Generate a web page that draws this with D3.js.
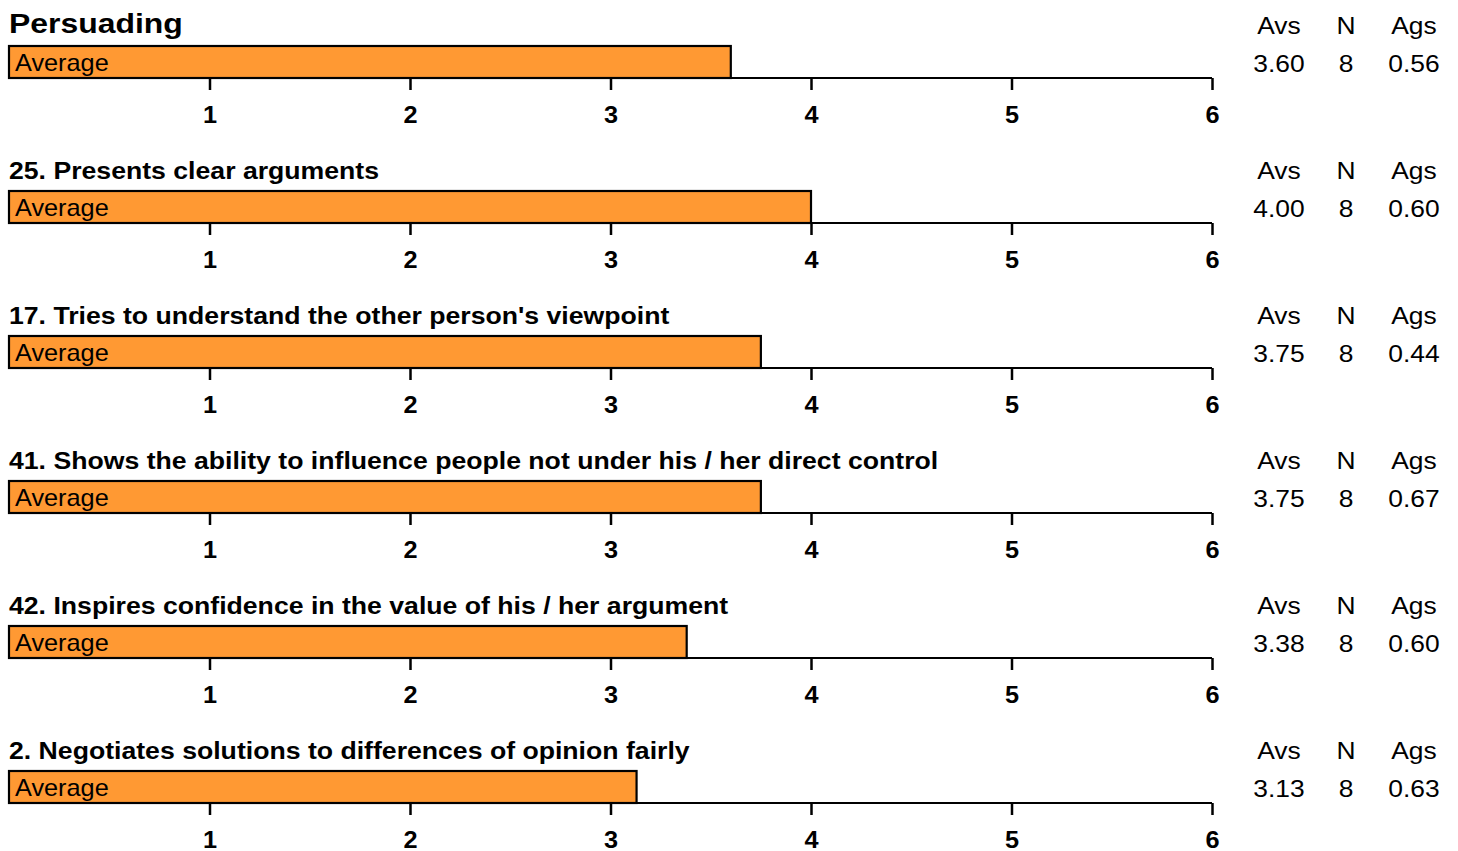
<!DOCTYPE html>
<html><head><meta charset="utf-8">
<script src="https://cdn.jsdelivr.net/npm/d3@7"></script>
<style>body{margin:0;background:#fff}svg{display:block;font-family:"Liberation Sans",Arial,sans-serif}</style>
</head><body><svg id="c" width="1458" height="851"></svg>
<script>
const titles = ["Persuading","25. Presents clear arguments","17. Tries to understand the other person's viewpoint","41. Shows the ability to influence people not under his / her direct control","42. Inspires confidence in the value of his / her argument","2. Negotiates solutions to differences of opinion fairly"];
const averages = [3.60, 4.00, 3.75, 3.75, 3.38, 3.13];
const counts = [8, 8, 8, 8, 8, 8];
const agsValues = [0.56, 0.60, 0.44, 0.67, 0.60, 0.63];
const barLabel = "Average";
const statHeaders = ["Avs","N","Ags"];
const tickValues = [1,2,3,4,5,6];

const svg = d3.select("#c");
const x = d3.scaleLinear().domain([0,6]).range([9,1212]);
const step = 145;
const statX = [1279,1346,1414];

function txt(g, tx, ty, sx, s){
  return g.append("text").attr("transform",`translate(${tx},${ty}) scale(${sx},1)`).attr("fill","#000").text(s);
}

titles.forEach((t,i)=>{
  const g = svg.append("g").attr("transform",`translate(0,${i*step})`);
  if(i===0){
    txt(g, 9, 33, 1.14, t).attr("font-size",28).attr("font-weight","bold");
  } else {
    txt(g, 9, 33.5, 1.11, t).attr("font-size",24).attr("font-weight","bold");
  }
  // axis
  const ax = g.append("g").attr("transform","translate(0,78)")
    .call(d3.axisBottom(x).tickValues(tickValues).tickFormat(d3.format("d")).tickSize(12).tickSizeOuter(0));
  ax.select(".domain").attr("stroke","#000").attr("stroke-width",2).attr("d",`M${x(0)},0H${x(6)}`);
  ax.selectAll(".tick line").attr("stroke","#000").attr("stroke-width",2.5);
  ax.selectAll(".tick text").attr("font-size",23).attr("font-weight","bold").attr("fill","#000")
    .attr("font-family","Liberation Sans, Arial, sans-serif")
    .attr("y",null).attr("dy",null).attr("transform","translate(0,45) scale(1.1,1)");
  // bar
  g.append("rect").attr("x",x(0)).attr("y",46).attr("width",x(averages[i])-x(0)).attr("height",32)
    .attr("fill","#FF9933").attr("stroke","#000").attr("stroke-width",2.2);
  txt(g, 15, 70.5, 1.1, barLabel).attr("font-size",23);
  // stats
  statHeaders.forEach((h,j)=>{
    txt(g, statX[j], 34, 1.1, h).attr("text-anchor","middle").attr("font-size",24);
  });
  const vals = [averages[i].toFixed(2), String(counts[i]), agsValues[i].toFixed(2)];
  vals.forEach((v,j)=>{
    txt(g, statX[j], 72, 1.1, v).attr("text-anchor","middle").attr("font-size",24);
  });
});
</script></body></html>
